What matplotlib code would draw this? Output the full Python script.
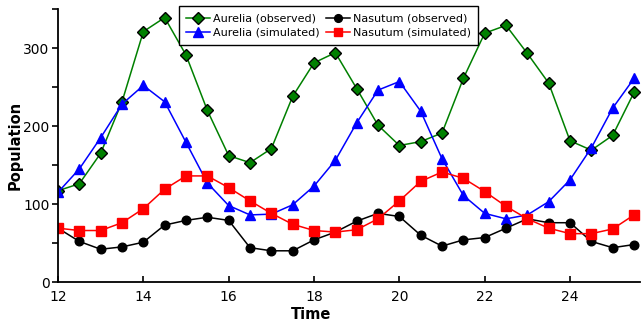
import numpy as np
import matplotlib
matplotlib.use("Agg")
import matplotlib.pyplot as plt
from matplotlib.ticker import MultipleLocator

# time points (every half unit)
time = np.arange(12, 26, 0.5)

aurelia_obs = [117, 126, 165, 231, 321, 339, 291, 220, 162, 153, 171, 238, 281, 294,
               248, 201, 175, 180, 191, 261, 319, 329, 293, 255, 181, 169, 188, 243]
aurelia_sim = [115, 145, 185, 228, 252, 231, 179, 127, 98, 86, 87, 99, 123, 156,
               204, 246, 257, 219, 158, 111, 88, 81, 86, 103, 131, 172, 223, 261]
nasutum_obs = [69, 52, 42, 45, 51, 73, 79, 83, 79, 44, 40, 40, 54, 64,
               78, 88, 84, 60, 46, 54, 57, 69, 81, 76, 76, 52, 44, 48]
nasutum_sim = [69, 66, 66, 76, 94, 119, 136, 136, 121, 104, 88, 74, 66, 64,
               67, 81, 104, 129, 141, 133, 116, 97, 81, 69, 62, 62, 68, 86]

plt.rcParams['font.family'] = ['DejaVu Sans']

fig = plt.figure(figsize=(6.41, 3.21), dpi=100)
ax = fig.add_axes([58 / 641, 39 / 321, 582 / 641, 273 / 321])

ax.plot(time, aurelia_obs, color='#008000', lw=1.1, marker='D', ms=6.3,
        mfc='#008000', mec='black', mew=1.0, label='Aurelia (observed)')
ax.plot(time, aurelia_sim, color='#0000ff', lw=1.1, marker='^', ms=7.5,
        mfc='#0000ff', mec='#0000ff', label='Aurelia (simulated)')
ax.plot(time, nasutum_obs, color='black', lw=1.1, marker='o', ms=6.2,
        label='Nasutum (observed)')
ax.plot(time, nasutum_sim, color='#ff0000', lw=1.1, marker='s', ms=6.6,
        label='Nasutum (simulated)')

ax.set_xlim(12, 25.64)
ax.set_ylim(0, 350)
ax.xaxis.set_major_locator(MultipleLocator(2))
ax.yaxis.set_major_locator(MultipleLocator(100))
ax.yaxis.set_minor_locator(MultipleLocator(50))

ax.spines['top'].set_visible(False)
ax.spines['right'].set_visible(False)
ax.spines['left'].set_linewidth(1.3)
ax.spines['bottom'].set_linewidth(1.3)
ax.tick_params(axis='x', direction='in', length=4, width=1.2, labelsize=10, pad=6)
ax.tick_params(axis='y', which='both', direction='out', length=4, width=1.2, labelsize=10, pad=2)

ax.set_xlabel('Time', fontweight='bold', fontsize=10.5)
ax.set_ylabel('Population', fontweight='bold', fontsize=10.5)
ax.xaxis.set_label_coords(0.435, -0.092)
ax.yaxis.set_label_coords(-0.06, 0.5)

leg = ax.legend(ncol=2, loc='upper center', bbox_to_anchor=(0.465, 1.01),
                fontsize=8, numpoints=1, fancybox=False, framealpha=1,
                edgecolor='black', handlelength=2.1, columnspacing=0.6,
                handletextpad=0.3, borderpad=0.65, labelspacing=0.4, borderaxespad=0.0,
                markerscale=0.9)
leg.get_frame().set_linewidth(1.0)

fig.savefig('out.png', dpi=100)
